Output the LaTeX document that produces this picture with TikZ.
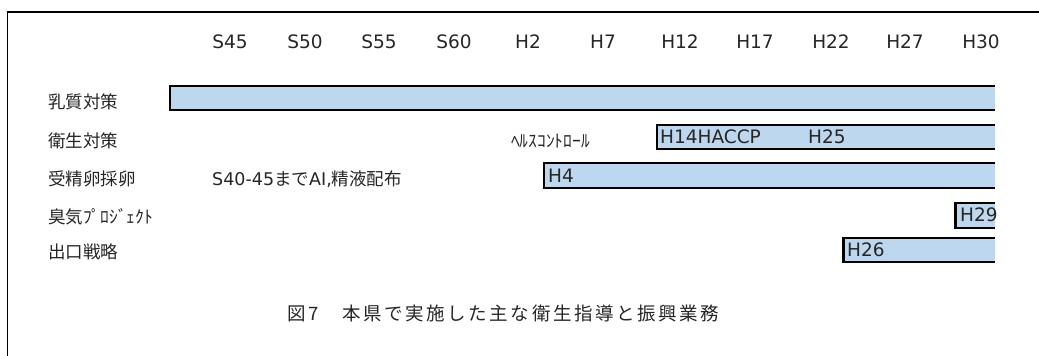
\documentclass[tikz,border=0pt]{standalone}
\usepackage{fontspec}
\setmainfont{Noto Sans CJK JP}
\newfontfamily\lat{DejaVu Sans}
\definecolor{barblue}{HTML}{BDD7EE}
\definecolor{txt}{HTML}{262626}
\tikzset{
  yearlbl/.style={font=\lat\fontsize{18.5}{18.5}\selectfont, text=txt, inner sep=0pt, anchor=center},
  rowlbl/.style={font=\fontsize{17.5}{17.5}\selectfont, text=txt, inner sep=0pt, anchor=west},
  barlbl/.style={font=\lat\fontsize{18.5}{18.5}\selectfont, text=txt, inner sep=0pt, anchor=west},
  barfill/.style={fill=barblue, draw=none},
  baredge/.style={draw=black, line width=2.6pt, line cap=butt, line join=miter},
}
\newcommand{\ganttbar}[4]{%
  \fill[barfill] (#1,#2) rectangle (995,#3);
  \draw[baredge] (995,#2) -- (#1,#2) -- (#1,#3) -- (995,#3);
  \coordinate (#4) at (#1,#2);
}
\begin{document}
\begin{tikzpicture}[x=1pt,y=-1pt]
\useasboundingbox (0,0) rectangle (1039,356);
\fill[white] (0,0) rectangle (1039,356);
% frame
\draw[black, line width=1.3pt] (7.5,356) -- (7.5,12) -- (1039,12);
% year labels
\foreach \lbl/\xx [count=\i] in {S45/230,S50/305,S55/379,S60/454,H2/528,H7/603,H12/680,H17/755,H22/831,H27/905,H30/981}
  \node[yearlbl] (yr\i) at (\xx,41.5) {\lbl};
% bars
\ganttbar{170}{86}{110}{b1}
\ganttbar{657}{125}{149}{b2}
\ganttbar{544}{163}{188}{b3}
\ganttbar{955.5}{203}{228}{b4}
\ganttbar{843.5}{238}{262}{b5}
% row labels
\node[rowlbl] (r1) at (48,102) {乳質対策};
\node[rowlbl] (r2) at (48,141) {衛生対策};
\node[rowlbl] (r3) at (48,179) {受精卵採卵};
\node[rowlbl] (r4) at (48,217) {臭気ﾌﾟﾛｼﾞｪｸﾄ};
\node[rowlbl] (r5) at (48,252) {出口戦略};
% annotations
\node[rowlbl] (ai) at (212,179) {{\lat S40-45}まで{\lat AI,}精液配布};
\node[rowlbl] (hc) at (511,141) {ﾍﾙｽｺﾝﾄﾛｰﾙ};
\node[barlbl] (h14) at (660,137) {H14HACCP};
\node[barlbl] (h25) at (808,137) {H25};
\node[barlbl] (h4) at (548,176) {H4};
\node[barlbl] (h29) at (960,215) {H29};
\node[barlbl] (h26) at (847,250) {H26};
% caption
\node[rowlbl, font=\addfontfeature{LetterSpace=14}\fontsize{18.5}{18.5}\selectfont] (cap) at (287,313) {図7　本県で実施した主な衛生指導と振興業務};
\end{tikzpicture}
\end{document}
